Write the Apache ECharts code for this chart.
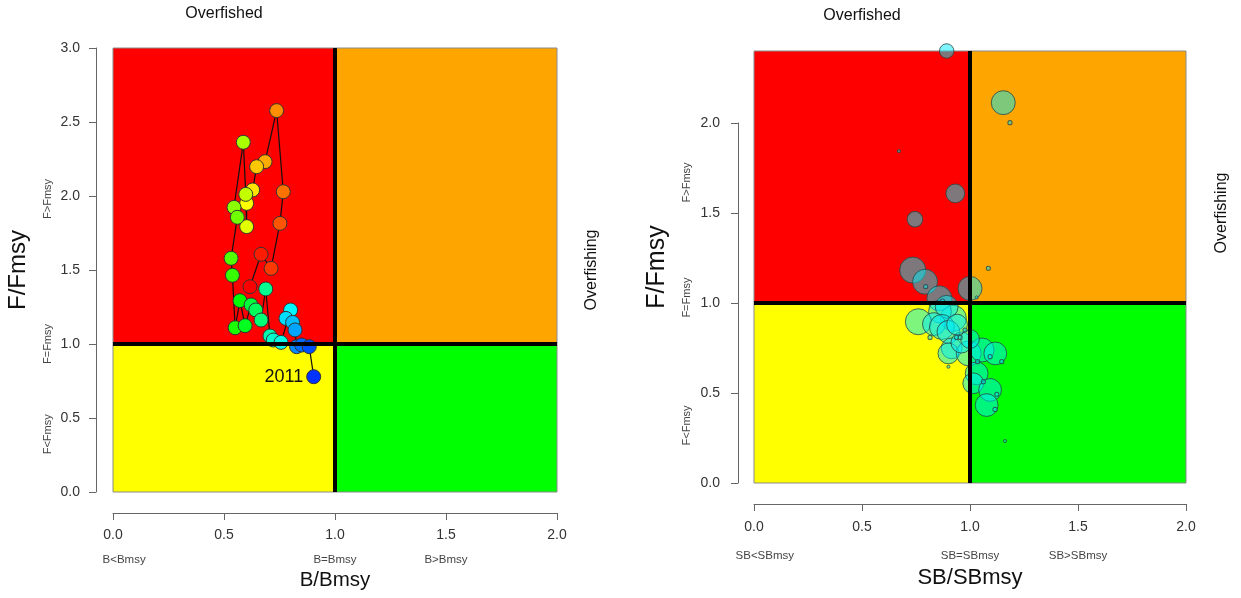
<!DOCTYPE html>
<html><head><meta charset="utf-8">
<script src="https://cdn.jsdelivr.net/npm/echarts@6/dist/echarts.min.js"></script>
<style>html,body{margin:0;padding:0;background:#fff}#c{width:1241px;height:598px}</style>
</head><body><div id="c"></div>
<script>
// ---------- data: left panel (B/Bmsy vs F/Fmsy trajectory, oldest -> 2011) ----------
const leftB = [0.617,0.667,0.712,0.752,0.767,0.737,0.685,0.647,0.629,0.602,0.602,0.598,0.587,0.545,0.560,0.532,0.538,0.550,0.572,0.595,0.622,0.643,0.667,0.688,0.707,0.722,0.757,0.800,0.779,0.809,0.820,0.827,0.850,0.884,0.904];
const leftF = [1.387,1.606,1.511,1.815,2.029,2.577,2.232,2.198,2.041,1.950,1.793,2.011,2.363,1.923,1.856,1.579,1.464,1.110,1.293,1.124,1.264,1.230,1.162,1.372,1.054,1.027,1.011,1.230,1.173,1.146,1.095,0.982,0.993,0.982,0.779];
const lastYearLabel = '2011';

// ---------- data: right panel (SB/SBmsy vs F/Fmsy, bubble weight) ----------
const rightSB = [0.892,1.154,0.932,0.745,0.735,0.792,1.000,0.858,0.761,0.923,0.861,0.892,0.833,0.870,0.900,0.915,0.900,0.994,1.056,1.117,1.031,1.015,1.093,1.077,0.960,1.000,0.940,
  1.185,0.671,0.795,1.085,1.031,0.873,0.815,0.938,0.954,0.977,0.900,1.093,1.147,1.035,1.062,1.124,1.116,1.162];
const rightF  = [2.400,2.113,1.609,1.465,1.183,1.118,1.081,1.026,0.896,0.915,0.952,0.979,0.883,0.867,0.840,0.748,0.720,0.720,0.739,0.720,0.609,0.554,0.517,0.433,0.780,0.800,0.880,
  2.002,1.844,1.091,1.193,1.031,1.011,0.809,0.809,0.809,0.850,0.646,0.702,0.674,0.674,0.563,0.493,0.409,0.233];
const rightW  = [31,85,52,36,100,92,85,92,100,100,77,77,77,92,77,64,64,92,85,77,77,64,77,77,64,52,64,
  2.6,1.4,2.6,2.6,1.4,2.6,2.6,2.6,2.6,2.6,1.4,2.6,2.6,2.6,2.6,2.6,2.6,1.4];

// ---------- axes / reference values ----------
const xTicks = [0, 0.5, 1, 1.5, 2];
const refPoint = 1;                 // Bmsy / Fmsy reference
const leftYMax = 3, rightYMax = 2.4, xMax = 2;
const leftXSub  = [[0.05,'B<Bmsy'],[1,'B=Bmsy'],[1.5,'B>Bmsy']];
const leftYSub  = [[0.39,'F<Fmsy'],[1.0,'F=Fmsy'],[1.98,'F>Fmsy']];
const rightXSub = [[0.05,'SB<SBmsy'],[1,'SB=SBmsy'],[1.5,'SB>SBmsy']];
const rightYSub = [[0.32,'F<Fmsy'],[1.03,'F=Fmsy'],[1.67,'F>Fmsy']];
const topLabel = 'Overfished', sideLabel = 'Overfishing';

const FONT = '"Liberation Sans", Arial, sans-serif';
const chart = echarts.init(document.getElementById('c'), null, {renderer:'canvas'});

function quadrants(yMax){
  const bc = {borderColor:'#8a8a8a', borderWidth:1};
  return [
    [{xAxis:0, yAxis:refPoint, itemStyle:Object.assign({color:'#ff0000'},bc)},{xAxis:refPoint, yAxis:yMax}],
    [{xAxis:refPoint, yAxis:refPoint, itemStyle:Object.assign({color:'#ffa500'},bc)},{xAxis:xMax, yAxis:yMax}],
    [{xAxis:0, yAxis:0, itemStyle:Object.assign({color:'#ffff00'},bc)},{xAxis:refPoint, yAxis:refPoint}],
    [{xAxis:refPoint, yAxis:0, itemStyle:Object.assign({color:'#00ff00'},bc)},{xAxis:xMax, yAxis:refPoint}]
  ];
}
function bgSeries(idx, yMax){
  return {
    type:'line', xAxisIndex:idx, yAxisIndex:idx, data:[], z:1, silent:true,
    markArea:{silent:true, label:{show:false}, data:quadrants(yMax)},
    markLine:{silent:true, symbol:['none','none'], label:{show:false},
      lineStyle:{color:'#000', width:4, type:'solid'},
      data:[{xAxis:refPoint},{yAxis:refPoint}]}
  };
}
const axisCommon = {
  axisLine:{show:true, onZero:false, lineStyle:{color:'#666', width:1}},
  axisTick:{show:true, length:7, lineStyle:{color:'#666', width:1}},
  splitLine:{show:false},
  nameLocation:'middle'
};
function fmt(v){ return v.toFixed(1); }

const n = leftB.length;
const leftData = leftB.map((b,i)=>[b, leftF[i]]);
const rightData = rightSB.map((s,i)=>[s, rightF[i], rightW[i]]);

const option = {
  animation:false,
  backgroundColor:'#fff',
  textStyle:{fontFamily:FONT},
  grid:[
    {left:113, top:48, width:444, height:444},
    {left:754, top:51, width:432, height:432},
    {left:754, top:123, width:432, height:360}
  ],
  xAxis:[
    Object.assign({}, axisCommon, {type:'value', gridIndex:0, min:0, max:xMax, interval:0.5, offset:21,
      axisLabel:{margin:15, fontSize:14, color:'#333', fontFamily:FONT, formatter:fmt},
      name:'B/Bmsy', nameGap:57, nameTextStyle:{fontSize:20.5, color:'#111', fontFamily:FONT}}),
    Object.assign({}, axisCommon, {type:'value', gridIndex:1, min:0, max:xMax, interval:0.5, offset:21,
      axisLabel:{margin:16, fontSize:14, color:'#333', fontFamily:FONT, formatter:fmt},
      name:'SB/SBmsy', nameGap:63, nameTextStyle:{fontSize:22, color:'#111', fontFamily:FONT}}),
    {type:'value', gridIndex:2, min:0, max:xMax, show:false}
  ],
  yAxis:[
    Object.assign({}, axisCommon, {type:'value', gridIndex:0, min:0, max:leftYMax, interval:0.5, offset:17,
      axisLabel:{margin:16, fontSize:14, color:'#333', fontFamily:FONT, formatter:fmt},
      name:'F/Fmsy', nameGap:66, nameTextStyle:{fontSize:24, color:'#111', fontFamily:FONT}}),
    {type:'value', gridIndex:1, min:0, max:rightYMax, offset:16, nameLocation:'middle',
      axisLine:{show:false, onZero:false}, axisTick:{show:false}, axisLabel:{show:false}, splitLine:{show:false},
      name:'F/Fmsy', nameGap:68, nameTextStyle:{fontSize:25, color:'#111', fontFamily:FONT}},
    Object.assign({}, axisCommon, {type:'value', gridIndex:2, min:0, max:2, interval:0.5, offset:16,
      axisLabel:{margin:18, fontSize:14, color:'#333', fontFamily:FONT, formatter:fmt}})
  ],
  series:[
    bgSeries(0, leftYMax),
    bgSeries(1, rightYMax),
    {
      type:'line', xAxisIndex:0, yAxisIndex:0, z:3, data:leftData,
      symbol:'circle', symbolSize:14, showAllSymbol:true, clip:false,
      lineStyle:{color:'#111', width:1.2},
      itemStyle:{
        color:function(p){ const h = 228*p.dataIndex/(n-1); return 'hsl('+h.toFixed(1)+',100%,50%)'; },
        borderColor:'#333', borderWidth:1
      },
      label:{
        show:true, position:'left', distance:3, fontSize:18, color:'#111', fontFamily:FONT,
        formatter:function(p){ return p.dataIndex===n-1 ? lastYearLabel : ''; }
      },
      emphasis:{disabled:true}
    },
    {
      type:'scatter', xAxisIndex:1, yAxisIndex:1, z:3, data:rightData, clip:false,
      symbol:'circle',
      symbolSize:function(v){ return 2.6*Math.sqrt(v[2]); },
      itemStyle:{color:'rgba(0,235,245,0.63)', borderColor:'#274646', borderWidth:1},
      emphasis:{disabled:true}
    }
  ]
};
chart.setOption(option);

// ---------- annotation texts positioned through the axes ----------
function P(gi, x, y){ return chart.convertToPixel({gridIndex:gi}, [x, y]); }
const g = [];
function txt(x, y, text, size, rot, color){
  g.push({type:'text', x:x, y:y, rotation:rot||0, silent:true,
    style:{text:text, x:0, y:0, font: size+'px '+FONT, fill:color||'#333',
      align:'center', verticalAlign:'middle', textAlign:'center', textVerticalAlign:'middle'}});
}
leftXSub.forEach(([v,t])=>txt(P(0,v,0)[0], 560, t, 11.5, 0, '#444'));
rightXSub.forEach(([v,t])=>txt(P(1,v,0)[0], 556, t, 11.5, 0, '#444'));
leftYSub.forEach(([v,t])=>txt(48, P(0,0,v)[1], t, 11, Math.PI/2, '#444'));
rightYSub.forEach(([v,t])=>txt(687, P(1,0,v)[1], t, 11, Math.PI/2, '#444'));
txt(P(0,0.5,leftYMax)[0], P(0,0.5,leftYMax)[1]-34, topLabel, 16, 0, '#111');
txt(P(1,0.5,rightYMax)[0], P(1,0.5,rightYMax)[1]-35, topLabel, 16, 0, '#111');
txt(P(0,xMax,1.5)[0]+35, P(0,xMax,1.5)[1], sideLabel, 16, Math.PI/2, '#111');
txt(P(1,xMax,1.5)[0]+36, P(1,xMax,1.5)[1], sideLabel, 16, Math.PI/2, '#111');
chart.setOption({graphic:g});
</script></body></html>
